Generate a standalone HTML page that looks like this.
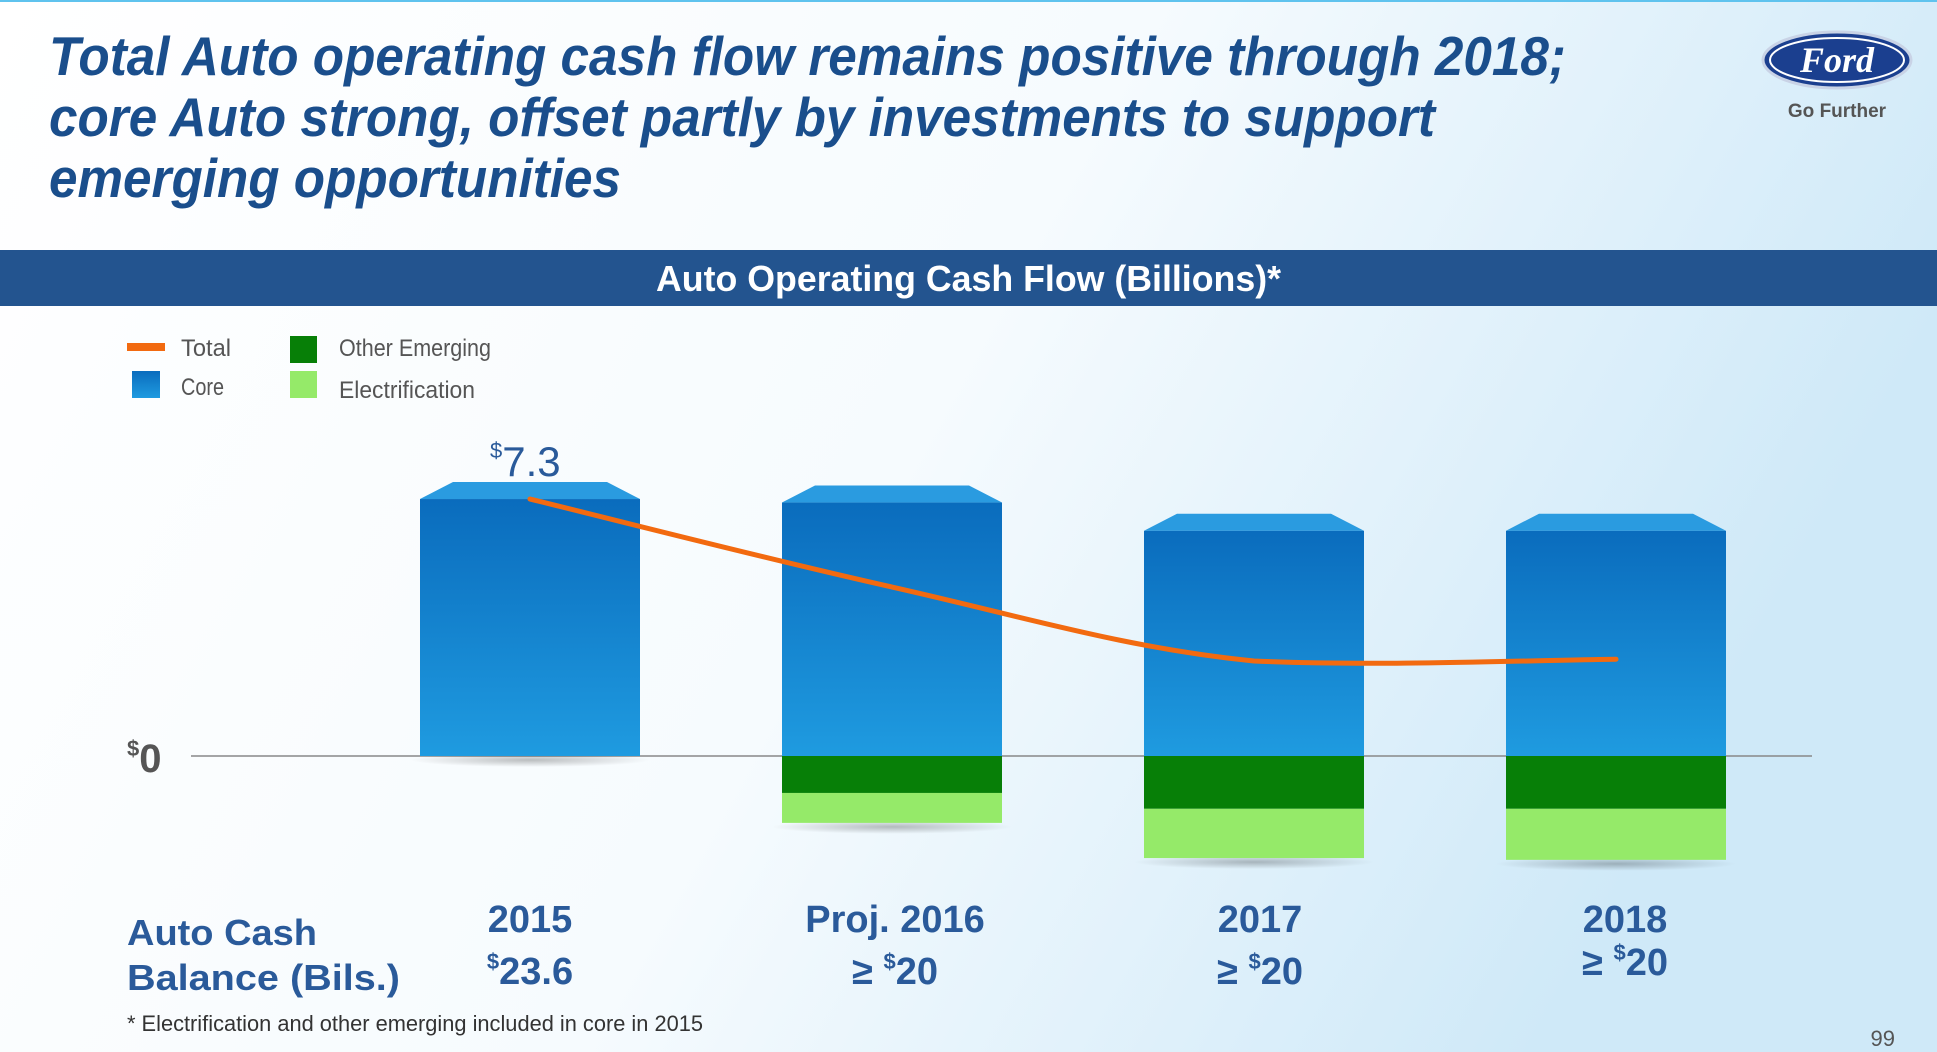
<!DOCTYPE html>
<html><head><meta charset="utf-8"><style>
html,body{margin:0;padding:0;width:1937px;height:1052px;overflow:hidden;background:#fff}
svg{display:block;font-family:"Liberation Sans",sans-serif}
</style></head><body>
<svg id="chart" width="1937" height="1052" viewBox="0 0 1937 1052" xmlns="http://www.w3.org/2000/svg">
<defs>
<linearGradient id="bg" x1="0" y1="0" x2="1" y2="0.3">
<stop offset="0" stop-color="#ffffff"/><stop offset="0.55" stop-color="#f6fbfe"/><stop offset="1" stop-color="#cfe9f8"/>
</linearGradient>
<linearGradient id="coreG" x1="0" y1="0" x2="0" y2="1">
<stop offset="0" stop-color="#0a6cbd"/><stop offset="1" stop-color="#1f9be0"/>
</linearGradient>
<radialGradient id="shadow" cx="0.5" cy="0.5" r="0.5">
<stop offset="0" stop-color="#000" stop-opacity="0.25"/><stop offset="1" stop-color="#000" stop-opacity="0"/>
</radialGradient>
</defs>
<rect width="1937" height="1052" fill="url(#bg)"/>
<rect width="1937" height="2" fill="#5fc3ee"/>
<g fill="#1a4e8c" font-weight="bold" font-style="italic" font-size="55">
<text x="49" y="75" textLength="1517" lengthAdjust="spacingAndGlyphs">Total Auto operating cash flow remains positive through 2018;</text>
<text x="49" y="136" textLength="1386" lengthAdjust="spacingAndGlyphs">core Auto strong, offset partly by investments to support</text>
<text x="49" y="197" textLength="572" lengthAdjust="spacingAndGlyphs">emerging opportunities</text>
</g>
<g>
<ellipse cx="1837" cy="60" rx="74" ry="28" fill="#1b3f8f" stroke="#c9d3e6" stroke-width="3"/>
<ellipse cx="1837" cy="60" rx="67" ry="22" fill="none" stroke="#fff" stroke-width="2"/>
<text x="1837" y="72" text-anchor="middle" fill="#fff" font-family="Liberation Serif,serif" font-style="italic" font-weight="bold" font-size="36">Ford</text>
<text x="1837" y="117" text-anchor="middle" fill="#555" font-size="19" font-weight="bold">Go Further</text>
</g>
<rect x="0" y="250" width="1937" height="56" fill="#23548f"/>
<text x="656" y="291" textLength="625" lengthAdjust="spacingAndGlyphs" fill="#fff" font-weight="bold" font-size="36">Auto Operating Cash Flow (Billions)*</text>
<g font-size="24" fill="#555">
<rect x="127" y="343" width="38" height="8" fill="#f26a10"/>
<text x="181" y="356" textLength="50" lengthAdjust="spacingAndGlyphs">Total</text>
<rect x="132" y="371" width="28" height="27" fill="url(#coreG)"/>
<text x="181" y="395" textLength="43" lengthAdjust="spacingAndGlyphs">Core</text>
<rect x="290" y="336" width="27" height="27" fill="#077f07"/>
<text x="339" y="356" textLength="152" lengthAdjust="spacingAndGlyphs">Other Emerging</text>
<rect x="290" y="371" width="27" height="27" fill="#95ea69"/>
<text x="339" y="398" textLength="136" lengthAdjust="spacingAndGlyphs">Electrification</text>
</g>
<line x1="191" y1="756" x2="1812" y2="756" stroke="#888" stroke-width="1.5"/>
<text x="127" y="772" fill="#555" font-weight="bold" font-size="40"><tspan font-size="22" dy="-16">$</tspan><tspan dy="16">0</tspan></text>
<g id="bars"></g>
<path id="totalLine" fill="none" stroke="#f26a10" stroke-width="5" stroke-linecap="round"/>
<text x="490" y="476" fill="#2a5a9a" font-size="42"><tspan font-size="22" dy="-18">$</tspan><tspan dy="18">7.3</tspan></text>
<g fill="#2a5a9a" font-weight="bold" font-size="36">
<text x="127" y="945" textLength="190" lengthAdjust="spacingAndGlyphs">Auto Cash</text>
<text x="127" y="990" textLength="273" lengthAdjust="spacingAndGlyphs">Balance (Bils.)</text>
</g>
<g id="xlabels" fill="#2a5a9a" font-weight="bold" font-size="38" text-anchor="middle"></g>
<text x="127" y="1031" fill="#333" font-size="22" textLength="576" lengthAdjust="spacingAndGlyphs">* Electrification and other emerging included in core in 2015</text>
<text x="1895" y="1046" text-anchor="end" fill="#555" font-size="22">99</text>
</svg>
<script>
const categories = ["2015", "Proj. 2016", "2017", "2018"];
const balances = ["$23.6", "≥ $20", "≥ $20", "≥ $20"];
const coreValues = [7.3, 7.2, 6.4, 6.4];
const otherEmerging = [0, 1.05, 1.5, 1.5];
const electrification = [0, 0.85, 1.4, 1.45];
const totalValues = [7.3, 4.8, 2.7, 2.75];

const NS = "http://www.w3.org/2000/svg";
const zeroY = 756, pxPerB = 35.2;
const y = v => zeroY - v * pxPerB;
const barW = 220, x0 = 420, step = 362;
const xLeft = i => x0 + i * step;
const xCenter = i => xLeft(i) + barW / 2;
const bars = document.getElementById("bars");
function mk(tag, attrs) { const e = document.createElementNS(NS, tag); for (const k in attrs) e.setAttribute(k, attrs[k]); return e; }

categories.forEach((c, i) => {
  const g = mk("g", {});
  
  
  const bottom = otherEmerging[i] + electrification[i];
  const sh = mk("ellipse", { cx: xCenter(i), cy: y(-bottom) + 4, rx: barW / 2 + 10, ry: 7, fill: "url(#shadow)" });
  
  
  g.appendChild(sh);
  const core = mk("rect", { x: xLeft(i), y: y(coreValues[i]), width: barW, height: coreValues[i] * pxPerB, fill: "url(#coreG)" });
  
  
  g.appendChild(core);
  const top = y(coreValues[i]);
  const cap = mk("polygon", { points: `${xLeft(i)},${top} ${xLeft(i)+33},${top-17} ${xLeft(i)+barW-33},${top-17} ${xLeft(i)+barW},${top}`, fill: "#2a9be0" });
  
  
  g.appendChild(cap);
  if (otherEmerging[i] > 0) {
    const o = mk("rect", { x: xLeft(i), y: zeroY, width: barW, height: otherEmerging[i] * pxPerB, fill: "#077f07" });
    
    
    g.appendChild(o);
  }
  if (electrification[i] > 0) {
    const e = mk("rect", { x: xLeft(i), y: y(-otherEmerging[i]), width: barW, height: electrification[i] * pxPerB, fill: "#95ea69" });
    
    
    g.appendChild(e);
  }
  bars.appendChild(g);

  const lx = xCenter(i) + i * 3;
  const xl = document.getElementById("xlabels");
  const t1 = mk("text", { x: lx, y: 932 });
  
  
  t1.textContent = c;
  xl.appendChild(t1);
  const t2 = mk("text", { x: lx, y: i === 3 ? 975 : 984 });
  
  
  const s = balances[i];
  const idx = s.indexOf("$");
  const a = mk("tspan", {}); a.textContent = s.slice(0, idx); t2.appendChild(a);
  const b = mk("tspan", { "font-size": "22", dy: "-15" }); b.textContent = "$"; t2.appendChild(b);
  const d = mk("tspan", { dy: "15" }); d.textContent = s.slice(idx + 1); t2.appendChild(d);
  xl.appendChild(t2);
});

const pts = totalValues.map((v, i) => [xCenter(i), y(v)]);
let dPath = `M${pts[0][0]},${pts[0][1]}`;
for (let i = 0; i < pts.length - 1; i++) {
  const p0 = pts[i - 1] || pts[i], p1 = pts[i], p2 = pts[i + 1], p3 = pts[i + 2] || p2;
  const t = 0.18;
  let c1y = p1[1] + (p2[1] - p0[1]) * t, c2y = p2[1] - (p3[1] - p1[1]) * t;
  const lo = Math.min(p1[1], p2[1]), hi = Math.max(p1[1], p2[1]);
  c1y = Math.max(lo - 6, Math.min(hi + 6, c1y)); c2y = Math.max(lo - 6, Math.min(hi + 6, c2y));
  const c1 = [p1[0] + (p2[0] - p0[0]) * t, c1y];
  const c2 = [p2[0] - (p3[0] - p1[0]) * t, c2y];
  dPath += ` C${c1[0]},${c1[1]} ${c2[0]},${c2[1]} ${p2[0]},${p2[1]}`;
}
document.getElementById("totalLine").setAttribute("d", dPath);
</script>
</body></html>
